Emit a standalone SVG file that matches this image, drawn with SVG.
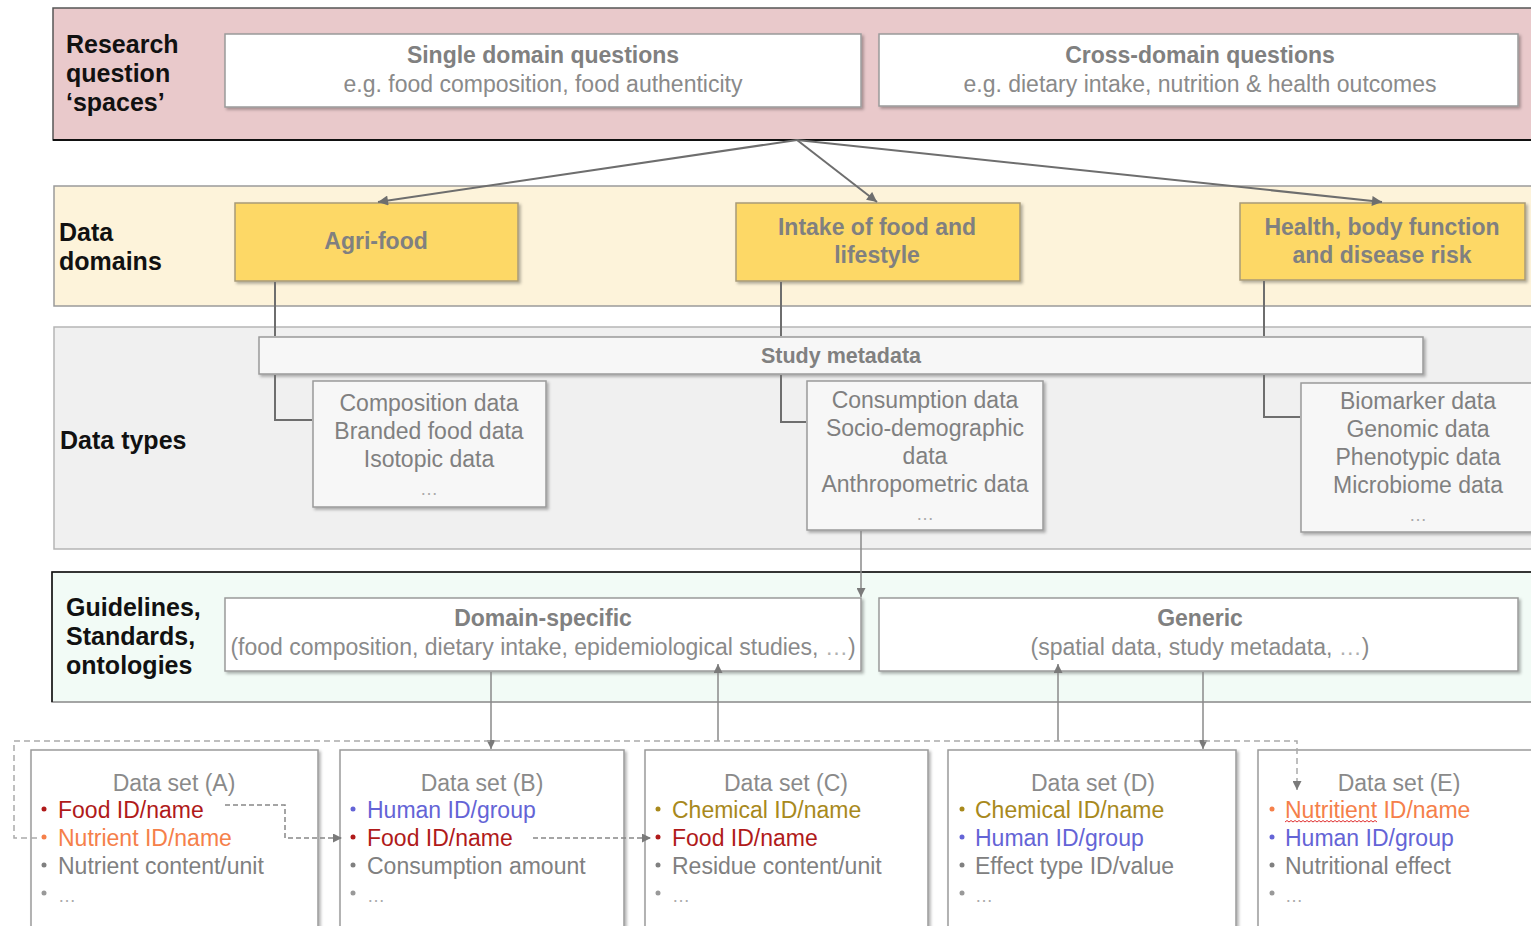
<svg xmlns="http://www.w3.org/2000/svg" width="1531" height="926" viewBox="0 0 1531 926">
  <style>
    text { font-family: "Liberation Sans", Arial, sans-serif; }
    .lbl { font-size: 25px; font-weight: bold; fill: #111; }
    .ttl { font-size: 23px; font-weight: bold; fill: #808080; text-anchor: middle; }
    .sub { font-size: 23px; fill: #8a8a8a; text-anchor: middle; }
    .typ { font-size: 23px; fill: #808080; text-anchor: middle; }
    .dots { font-size: 18px; fill: #aaaaaa; }
    .dsT { font-size: 23px; fill: #8a8a8a; text-anchor: middle; }
    .it { font-size: 23px; }
    .red { fill: #b01a1a; }
    .org { fill: #f5804a; }
    .blu { fill: #6464d6; }
    .gld { fill: #a8891c; }
    .gry { fill: #808080; }
    .box { fill: #ffffff; stroke: #9a9a9a; stroke-width: 1.5; filter: url(#sh); }
    .ybox { fill: #fdd866; stroke: #a89a78; stroke-width: 1.5; filter: url(#sh); }
    .tbox { fill: #f7f7f7; stroke: #9a9a9a; stroke-width: 1.5; filter: url(#sh); }
    .link { fill: none; stroke: #6e6e6e; stroke-width: 2; }
    .thin { fill: none; stroke: #8a8a8a; stroke-width: 1.5; }
    .dash { fill: none; stroke: #888888; stroke-width: 1.5; stroke-dasharray: 5 3; }
    .ldash { fill: none; stroke: #aaaaaa; stroke-width: 1.5; stroke-dasharray: 6 4; }
  </style>
  <defs>
    <filter id="sh" x="-5%" y="-10%" width="115%" height="135%">
      <feDropShadow dx="2" dy="2" stdDeviation="1.5" flood-color="#000" flood-opacity="0.3"/>
    </filter>
    <marker id="ah" viewBox="0 0 10 10" refX="10" refY="5" markerWidth="11" markerHeight="10" markerUnits="userSpaceOnUse" orient="auto">
      <path d="M0,0 L10,5 L0,10 z" fill="#6e6e6e"/>
    </marker>
    <marker id="ahs" viewBox="0 0 10 10" refX="10" refY="5" markerWidth="10" markerHeight="9" markerUnits="userSpaceOnUse" orient="auto">
      <path d="M0,0 L10,5 L0,10 z" fill="#7a7a7a"/>
    </marker>
  </defs>

  <!-- layer bands -->
  <g id="band-research">
    <rect x="53" y="8" width="1490" height="132" fill="#e9c9cb" stroke="#555" stroke-width="1.5"/>
    <line x1="53" y1="140" x2="1531" y2="140" stroke="#111" stroke-width="2"/>
    <text class="lbl" x="66" y="53">Research</text>
    <text class="lbl" x="66" y="82">question</text>
    <text class="lbl" x="66" y="111">‘spaces’</text>
  </g>
  <g id="band-domains">
    <rect x="54" y="186" width="1490" height="120" fill="#fdf3da" stroke="#9a9a9a" stroke-width="1.5"/>
    <text class="lbl" x="59" y="241">Data</text>
    <text class="lbl" x="59" y="270">domains</text>
  </g>
  <g id="band-types">
    <rect x="54" y="327" width="1490" height="222" fill="#f0f0f0" stroke="#b5b5b5" stroke-width="1.5"/>
    <text class="lbl" x="60" y="449">Data types</text>
  </g>
  <g id="band-standards">
    <rect x="52" y="572" width="1490" height="130" fill="#f2fbf6" stroke="#888" stroke-width="1.5"/>
    <path d="M52,702 V572 H1531" fill="none" stroke="#111" stroke-width="1.5"/>
    <text class="lbl" x="66" y="616">Guidelines,</text>
    <text class="lbl" x="66" y="645">Standards,</text>
    <text class="lbl" x="66" y="674">ontologies</text>
  </g>

  <!-- research question spaces -->
  <g id="single-domain">
    <rect class="box" x="225" y="34" width="636" height="73"/>
    <text class="ttl" x="543" y="63">Single domain questions</text>
    <text class="sub" x="543" y="92">e.g. food composition, food authenticity</text>
  </g>
  <g id="cross-domain">
    <rect class="box" x="879" y="34" width="639" height="72"/>
    <text class="ttl" x="1200" y="63">Cross-domain questions</text>
    <text class="sub" x="1200" y="92">e.g. dietary intake, nutrition &amp; health outcomes</text>
  </g>

  <!-- data domains -->
  <g id="agri-food">
    <rect class="ybox" x="235" y="203" width="283" height="78"/>
    <text class="ttl" x="376" y="249">Agri-food</text>
  </g>
  <g id="intake">
    <rect class="ybox" x="736" y="203" width="284" height="78"/>
    <text class="ttl" x="877" y="235">Intake of food and</text>
    <text class="ttl" x="877" y="263">lifestyle</text>
  </g>
  <g id="health">
    <rect class="ybox" x="1240" y="203" width="285" height="77"/>
    <text class="ttl" x="1382" y="235">Health, body function</text>
    <text class="ttl" x="1382" y="263">and disease risk</text>
  </g>

  <!-- data types -->
  <g id="study-metadata">
    <rect class="tbox" x="259" y="337" width="1164" height="37"/>
    <text class="ttl" x="841" y="363" style="font-size:21.5px">Study metadata</text>
  </g>
  <g id="types-agri">
    <rect class="tbox" x="313" y="381" width="233" height="126"/>
    <text class="typ" x="429" y="411">Composition data</text>
    <text class="typ" x="429" y="439">Branded food data</text>
    <text class="typ" x="429" y="467">Isotopic data</text>
    <text class="dots" x="429" y="495" text-anchor="middle">…</text>
  </g>
  <g id="types-intake">
    <rect class="tbox" x="807" y="381" width="236" height="149"/>
    <text class="typ" x="925" y="408">Consumption data</text>
    <text class="typ" x="925" y="436">Socio-demographic</text>
    <text class="typ" x="925" y="464">data</text>
    <text class="typ" x="925" y="492">Anthropometric data</text>
    <text class="dots" x="925" y="520" text-anchor="middle">…</text>
  </g>
  <g id="types-health">
    <rect class="tbox" x="1301" y="383" width="240" height="149"/>
    <text class="typ" x="1418" y="409">Biomarker data</text>
    <text class="typ" x="1418" y="437">Genomic data</text>
    <text class="typ" x="1418" y="465">Phenotypic data</text>
    <text class="typ" x="1418" y="493">Microbiome data</text>
    <text class="dots" x="1418" y="521" text-anchor="middle">…</text>
  </g>

  <!-- guidelines, standards, ontologies -->
  <g id="domain-specific">
    <rect class="box" x="225" y="598" width="636" height="73"/>
    <text class="ttl" x="543" y="626">Domain-specific</text>
    <text class="sub" x="543" y="655">(food composition, dietary intake, epidemiological studies, <tspan fill="#b0b0b0">…</tspan>)</text>
  </g>
  <g id="generic">
    <rect class="box" x="879" y="598" width="639" height="73"/>
    <text class="ttl" x="1200" y="626">Generic</text>
    <text class="sub" x="1200" y="655">(spatial data, study metadata, <tspan fill="#b0b0b0">…</tspan>)</text>
  </g>

  <!-- data sets -->
  <g id="dataset-a">
    <rect class="box" x="31" y="750" width="287" height="190"/>
    <text class="dsT" x="174" y="791">Data set (A)</text>
    <circle cx="44" cy="809" r="2.5" fill="#b01a1a"/>
    <text class="it red" x="58" y="818">Food ID/name</text>
    <circle cx="44" cy="837" r="2.5" fill="#f5804a"/>
    <text class="it org" x="58" y="846">Nutrient ID/name</text>
    <circle cx="44" cy="865" r="2.5" fill="#808080"/>
    <text class="it gry" x="58" y="874">Nutrient content/unit</text>
    <circle cx="44" cy="893" r="2.5" fill="#999"/>
    <text class="dots" x="58" y="902">…</text>
  </g>
  <g id="dataset-b">
    <rect class="box" x="340" y="750" width="284" height="190"/>
    <text class="dsT" x="482" y="791">Data set (B)</text>
    <circle cx="353" cy="809" r="2.5" fill="#6464d6"/>
    <text class="it blu" x="367" y="818">Human ID/group</text>
    <circle cx="353" cy="837" r="2.5" fill="#b01a1a"/>
    <text class="it red" x="367" y="846">Food ID/name</text>
    <circle cx="353" cy="865" r="2.5" fill="#808080"/>
    <text class="it gry" x="367" y="874">Consumption amount</text>
    <circle cx="353" cy="893" r="2.5" fill="#999"/>
    <text class="dots" x="367" y="902">…</text>
  </g>
  <g id="dataset-c">
    <rect class="box" x="645" y="750" width="283" height="190"/>
    <text class="dsT" x="786" y="791">Data set (C)</text>
    <circle cx="658" cy="809" r="2.5" fill="#a8891c"/>
    <text class="it gld" x="672" y="818">Chemical ID/name</text>
    <circle cx="658" cy="837" r="2.5" fill="#b01a1a"/>
    <text class="it red" x="672" y="846">Food ID/name</text>
    <circle cx="658" cy="865" r="2.5" fill="#808080"/>
    <text class="it gry" x="672" y="874">Residue content/unit</text>
    <circle cx="658" cy="893" r="2.5" fill="#999"/>
    <text class="dots" x="672" y="902">…</text>
  </g>
  <g id="dataset-d">
    <rect class="box" x="948" y="750" width="288" height="190"/>
    <text class="dsT" x="1093" y="791">Data set (D)</text>
    <circle cx="962" cy="809" r="2.5" fill="#a8891c"/>
    <text class="it gld" x="975" y="818">Chemical ID/name</text>
    <circle cx="962" cy="837" r="2.5" fill="#6464d6"/>
    <text class="it blu" x="975" y="846">Human ID/group</text>
    <circle cx="962" cy="865" r="2.5" fill="#808080"/>
    <text class="it gry" x="975" y="874">Effect type ID/value</text>
    <circle cx="962" cy="893" r="2.5" fill="#999"/>
    <text class="dots" x="975" y="902">…</text>
  </g>
  <g id="dataset-e">
    <rect class="box" x="1258" y="750" width="290" height="190"/>
    <text class="dsT" x="1399" y="791">Data set (E)</text>
    <circle cx="1272" cy="809" r="2.5" fill="#f5804a"/>
    <text class="it org" x="1285" y="818">Nutritient ID/name</text>
    <path d="M1285,822 l2,-1.5 2,1.5 2,-1.5 2,1.5 2,-1.5 2,1.5 2,-1.5 2,1.5 2,-1.5 2,1.5 2,-1.5 2,1.5 2,-1.5 2,1.5 2,-1.5 2,1.5 2,-1.5 2,1.5 2,-1.5 2,1.5 2,-1.5 2,1.5 2,-1.5 2,1.5 2,-1.5 2,1.5 2,-1.5 2,1.5 2,-1.5 2,1.5 2,-1.5 2,1.5 2,-1.5 2,1.5 2,-1.5 2,1.5 2,-1.5 2,1.5 2,-1.5 2,1.5 2,-1.5 2,1.5 2,-1.5 2,1.5 2,-1.5 2,1.5" fill="none" stroke="#e03030" stroke-width="1"/>
    <circle cx="1272" cy="837" r="2.5" fill="#6464d6"/>
    <text class="it blu" x="1285" y="846">Human ID/group</text>
    <circle cx="1272" cy="865" r="2.5" fill="#808080"/>
    <text class="it gry" x="1285" y="874">Nutritional effect</text>
    <circle cx="1272" cy="893" r="2.5" fill="#999"/>
    <text class="dots" x="1285" y="902">…</text>
  </g>

  <!-- connectors, drawn on top; domain drops are split around the study metadata bar -->
  <g id="connectors">
    <path class="link" d="M797,140 L378,202" marker-end="url(#ah)"/>
    <path class="link" d="M797,140 L877,202" marker-end="url(#ah)"/>
    <path class="link" d="M797,140 L1382,202" marker-end="url(#ah)"/>
    <path class="link" d="M275,282 V336"/>
    <path class="link" d="M275,375 V420 H312"/>
    <path class="link" d="M781,282 V336"/>
    <path class="link" d="M781,375 V422 H806"/>
    <path class="link" d="M1264,281 V336"/>
    <path class="link" d="M1264,375 V417 H1300"/>
    <path class="thin" d="M861,531 V597" marker-end="url(#ahs)"/>
    <path class="thin" d="M491,672 V749" marker-end="url(#ahs)"/>
    <path class="thin" d="M718,741 V664" marker-end="url(#ahs)"/>
    <path class="thin" d="M1058,741 V664" marker-end="url(#ahs)"/>
    <path class="thin" d="M1203,672 V749" marker-end="url(#ahs)"/>
    <path class="ldash" d="M37,838 H14 V741 H1297 V790" marker-end="url(#ahs)"/>
    <path class="dash" d="M225,805 H285 V838 H342" marker-end="url(#ahs)"/>
    <path class="dash" d="M533,838 H651" marker-end="url(#ahs)"/>
  </g>
</svg>
